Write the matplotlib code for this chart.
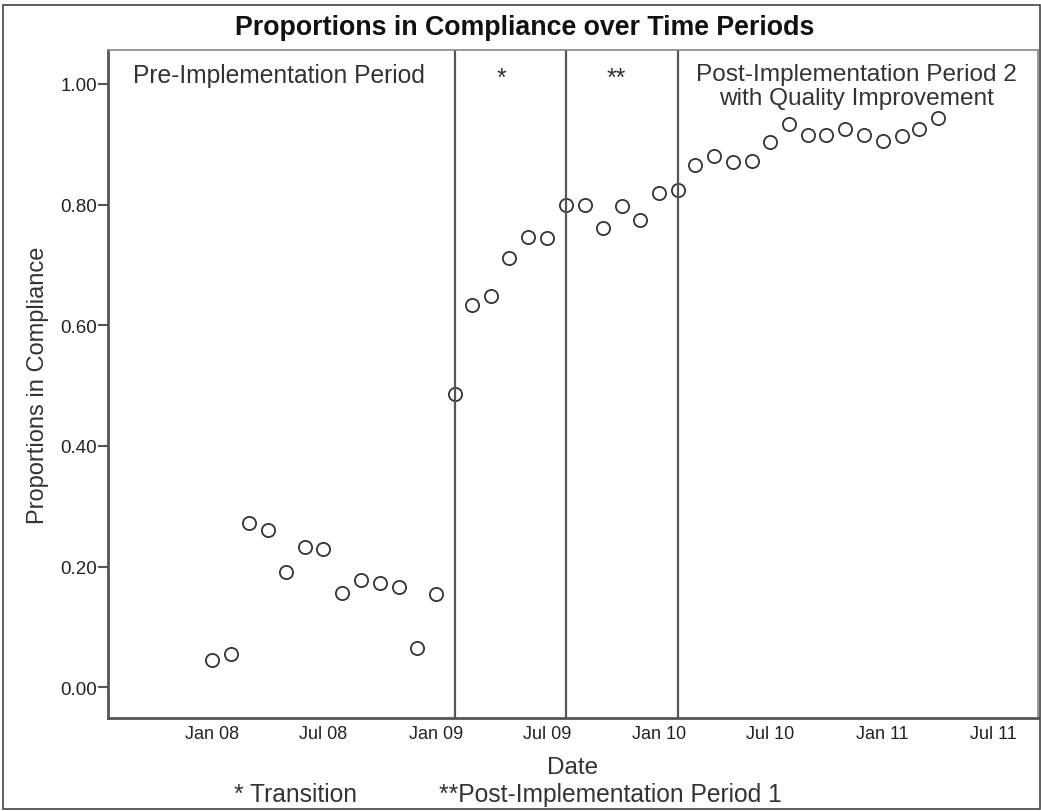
import numpy as np
import pandas as pd
import matplotlib
matplotlib.use("Agg")
import matplotlib.pyplot as plt
from matplotlib.patches import Rectangle
from matplotlib.ticker import FormatStrFormatter

plt.rcParams['font.family'] = ['Liberation Sans', 'DejaVu Sans']

# monthly compliance proportions, Jan 2008 - Apr 2011
months = pd.date_range("2008-01-01", periods=40, freq="MS")
proportions = [0.046, 0.055, 0.272, 0.260, 0.191, 0.232, 0.229, 0.157, 0.177, 0.172,
               0.167, 0.065, 0.154, 0.486, 0.633, 0.648, 0.712, 0.747, 0.744, 0.800,
               0.799, 0.762, 0.797, 0.774, 0.820, 0.824, 0.865, 0.880, 0.870, 0.873,
               0.903, 0.933, 0.916, 0.916, 0.925, 0.915, 0.906, 0.913, 0.926, 0.943]

# period boundaries
boundaries = pd.to_datetime(["2009-02-01", "2009-08-01", "2010-02-01"])

tick_dates = pd.date_range("2008-01-01", "2011-07-01", freq="6MS")
tick_labels = [d.strftime("%b %y") for d in tick_dates]
y_ticks = [0.0, 0.2, 0.4, 0.6, 0.8, 1.0]

dark = "#333333"

fig = plt.figure(figsize=(10.41, 8.12), dpi=100)
ax = fig.add_axes([0.1037, 0.1145, 0.8935, 0.8225])

ax.plot(months, proportions, linestyle="none", marker="o", markersize=9.5,
        markerfacecolor="none", markeredgecolor=dark, markeredgewidth=1.3)

for b in boundaries:
    ax.axvline(b, color="#555555", linewidth=1.6)

ax.set_xlim(pd.Timestamp("2007-07-15"), pd.Timestamp("2011-09-12"))
ax.set_ylim(-0.051, 1.056)

ax.set_xticks(tick_dates)
ax.set_xticklabels(tick_labels)
ax.set_yticks(y_ticks)
ax.yaxis.set_major_formatter(FormatStrFormatter("%.2f"))
ax.tick_params(axis="x", length=0, pad=5, labelsize=13, labelcolor="#222222")
ax.tick_params(axis="y", length=7, width=1.5, color="#555555", pad=1,
               labelsize=13.5, labelcolor="#222222")

for side in ["left", "bottom"]:
    ax.spines[side].set_linewidth(2)
    ax.spines[side].set_color("#555555")
for side in ["top", "right"]:
    ax.spines[side].set_linewidth(1.2)
    ax.spines[side].set_color("#888888")

ax.set_ylabel("Proportions in Compliance", fontsize=17, color=dark, labelpad=8)
ax.set_xlabel("Date", fontsize=17.5, color=dark, labelpad=10)

fig.text(0.5043, 0.966, "Proportions in Compliance over Time Periods",
         ha="center", va="center", fontsize=19.3, fontweight="bold", color="#111111")

# period labels
ax.text(0.184, 0.953, "Pre-Implementation Period", transform=ax.transAxes,
        ha="center", va="baseline", fontsize=17.7, color=dark)
ax.text(0.4226, 0.958, "*", transform=ax.transAxes,
        ha="center", va="center", fontsize=17.7, color=dark)
ax.text(0.546, 0.958, "**", transform=ax.transAxes,
        ha="center", va="center", fontsize=17.7, color=dark)
ax.text(0.805, 0.956, "Post-Implementation Period 2", transform=ax.transAxes,
        ha="center", va="baseline", fontsize=17.6, color=dark)
ax.text(0.805, 0.920, "with Quality Improvement", transform=ax.transAxes,
        ha="center", va="baseline", fontsize=17.6, color=dark)

# footnote
fig.text(0.2834, 0.021, "* Transition", ha="center", va="center", fontsize=17.7, color=dark)
fig.text(0.586, 0.021, "**Post-Implementation Period 1", ha="center", va="center",
         fontsize=17.7, color=dark)

# outer frame
fig.patches.append(Rectangle((0.003, 0.002), 0.996, 0.99, transform=fig.transFigure,
                             fill=False, edgecolor="#444444", linewidth=1.2))

fig.savefig("out.png", dpi=100)
